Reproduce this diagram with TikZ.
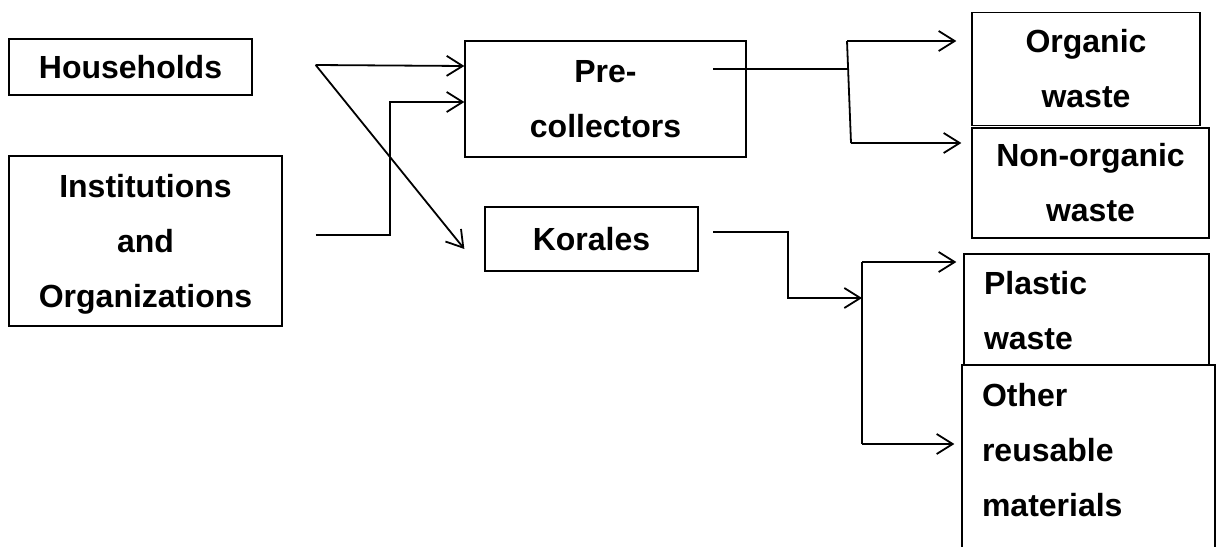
\documentclass[tikz,border=0pt]{standalone}
\usepackage{fontspec}
\setmainfont{Liberation Sans}
\usetikzlibrary{arrows.meta,calc}

\tikzset{
  box/.style={draw, line width=1.3pt, fill=white, inner sep=0pt,
    font=\bfseries\fontsize{32}{55}\selectfont, align=center},
  lbox/.style={box, align=left, inner xsep=20pt},
  link/.style={line width=1.8pt},
  arr/.style={link, -{Straight Barb[length=16pt,width=20pt]}},
}

\begin{document}
\begin{tikzpicture}[x=1pt, y=-1pt]
  \clip (0,0) rectangle (1230,546);
  \fill[white] (0,0) rectangle (1230,546);

  % sources
  \node[box, minimum width=243pt, minimum height=56pt] (hh) at (130.5,67)
    {\strut Households};
  \node[box, minimum width=273pt, minimum height=170pt] (inst) at (145.5,241)
    {\strut Institutions\\\strut and\\\strut Organizations};

  % collectors
  \node[box, minimum width=281pt, minimum height=116pt] (pre) at (605.5,99)
    {\strut Pre-\\\strut collectors};
  \node[box, minimum width=213pt, minimum height=64pt] (kor) at (591.5,239)
    {\strut Korales};

  % waste streams
  \node[box, minimum width=228pt, minimum height=113pt] (org) at (1086,69)
    {\strut Organic\\\strut waste};
  \node[box, minimum width=237pt, minimum height=107pt] (non) at (1090.5,183)
    {\strut Non-organic\\\strut waste};
  \node[lbox, text width=205pt, minimum height=114pt] (pla) at (1086.5,311)
    {\strut Plastic\\\strut waste};
  \node[lbox, text width=213pt, minimum height=225pt] (oth) at (1088.5,477.5)
    {\strut Other\\\strut reusable\\\strut materials\\\strut};

  % junction points
  \coordinate (hsrc) at ($(hh.east)+(63,-2)$);
  \coordinate (isrc) at ($(inst.east)+(33,-6)$);
  \coordinate (ibend) at (390,102);
  \coordinate (psrc) at (713,69);
  \coordinate (ptop) at (847,41);
  \coordinate (pbot) at (851,143);
  \coordinate (ksrc) at (713,232);
  \coordinate (kbend) at (788,298);
  \coordinate (ktop) at (862,262);
  \coordinate (kbot) at (862,444);

  % households and institutions to collectors
  \draw[arr] (hsrc) -- (pre.west |- 0,66);
  \draw[arr] (hsrc) -- ($(kor.west)+(-20,10)$);
  \draw[arr] (isrc) -| (ibend) -- (pre.west |- ibend);

  % pre-collectors to organic / non-organic
  \draw[link] (psrc) -- (ptop |- psrc);
  \draw[link] (ptop) -- (pbot);
  \draw[arr] (ptop) -- ($(org.west |- ptop)+(-15,0)$);
  \draw[arr] (pbot) -- ($(non.west |- pbot)+(-10,0)$);

  % korales to plastic / other
  \draw[arr] (ksrc) -| (kbend) -- (ktop |- kbend);
  \draw[link] (ktop) -- (kbot);
  \draw[arr] (ktop) -- ($(pla.west |- ktop)+(-7,0)$);
  \draw[arr] (kbot) -- ($(oth.west |- kbot)+(-7,0)$);
\end{tikzpicture}
\end{document}
